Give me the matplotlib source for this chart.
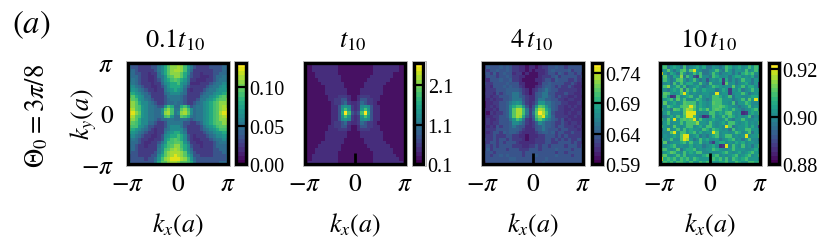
import matplotlib
matplotlib.use("Agg")
import matplotlib.pyplot as plt
from matplotlib.patches import Rectangle
import numpy as np

plt.rcParams['font.family'] = ['Liberation Serif', 'DejaVu Serif']
plt.rcParams['mathtext.fontset'] = 'stix'

W, H = 831, 253

titles = [r'$0.1t_{10}$', r'$t_{10}$', r'$4\,t_{10}$', r'$10\,t_{10}$']
ranges = [(0.0, 0.132), (0.1, 2.67), (0.59, 0.757), (0.88, 0.9226)]
cbar_ticks = [[0.00, 0.05, 0.10], [0.1, 1.1, 2.1], [0.59, 0.64, 0.69, 0.74], [0.88, 0.90, 0.92]]
cbar_labels = [['0.00', '0.05', '0.10'], ['0.1', '1.1', '2.1'],
               ['0.59', '0.64', '0.69', '0.74'], ['0.88', '0.90', '0.92']]

# Cell levels, hex digit 0..f = bottom..top of that panel's colour scale
levels_a = """
55444 33445 689ab cb986 54334 44444 5
54433 33446 79bcc dca86 43333 44445 5
55433 33346 79bcd dca75 33333 34445 5
65443 32335 79bcc cb974 33233 34455 5
65543 32235 68abc cb964 33222 34556 6
66543 32234 689ab a9863 32223 34566 6
76543 33233 57899 a8752 22333 45667 7
87654 33223 46899 98643 33334 56678 8
88765 43323 36789 87532 33345 66788 9
a9876 54333 35677 76533 33456 67889 a
bb987 55333 34666 65433 33566 789ab b
cba87 65433 34566 65433 34667 89abb c
dcb97 76543 34556 55433 45678 9abcc c
dcba8 76654 48a95 59a84 56678 9abcd d
edba8 76655 7bca6 6bca7 56678 9abcd e
fecb8 76655 7cda6 7cdb7 56678 9abde f
edba8 76655 6ab85 5ba96 56678 9abcd e
dcb97 76654 55665 56654 56678 9abcc d
cba97 75543 34666 66443 34578 9abbc c
baa87 64433 34677 76433 33467 89abb b
a9876 54323 35677 77533 33456 789aa a
98765 43323 36789 97633 33345 67889 9
77654 33223 47899 a9743 23334 56778 7
66543 32233 489ab a9743 22333 45667 6
65543 22334 68aab ba863 32233 34566 6
55433 23335 79abc ca974 33233 34555 5
55433 33336 7abcd cb975 33333 34455 5
54433 33346 8bcdd dcb86 43333 34445 5
44433 33447 9bcde dcb97 44333 34444 5
44444 34458 acdee edca8 54444 44444 5
54444 44469 bbcdd cbba9 64444 44455 5
"""

levels_b = """
12222 22222 11111 11111 12222 22222 1
11222 22222 11111 11111 12222 22221 1
11222 22222 11111 11111 12222 22221 1
11122 22222 11111 11111 12222 22111 1
11122 22222 21111 11111 22222 22111 1
11112 22222 21111 11112 22222 21111 1
11111 22222 22111 11122 22222 11111 1
11111 12222 22111 11122 22221 11111 1
11111 12222 22211 11222 22221 11111 1
11111 12222 22211 11222 22221 11111 1
11111 11222 33321 12333 22211 11111 1
11111 11223 34421 12443 32211 11111 1
11111 11123 34532 23543 32111 11111 1
11111 11122 47873 23787 42211 11111 1
11111 11122 48a83 238a8 42211 11111 1
11111 11122 49fa4 34af9 42211 11111 1
11111 11122 48a83 238a8 42211 11111 1
11111 11122 47873 23787 42211 11111 1
11111 11123 34532 23543 32111 11111 1
11111 11223 34421 12443 32211 11111 1
11111 11222 33321 12333 22211 11111 1
11111 12222 22211 11222 22221 11111 1
11111 12222 22211 11222 22221 11111 1
11111 12222 22111 11122 22221 11111 1
11111 22222 22111 11122 22222 11111 1
11112 22222 21111 11112 22222 21111 1
11122 22222 21111 11111 22222 22111 1
11122 22222 11111 11111 12222 22111 1
11222 22222 11111 11111 12222 22211 1
11222 22222 11111 11111 12222 22221 1
12222 22222 11111 11111 12222 22222 1
"""

levels_c = """
34344 45443 23222 12223 34443 44343 3
35444 54543 32212 21233 44544 34444 4
43445 44543 32212 12223 45444 45344 4
44353 45442 33121 11223 44354 34434 3
34443 44543 32211 11233 34534 44443 4
32444 54453 32111 12234 43544 43343 3
43344 44544 42211 11244 54444 33432 3
33244 45454 43211 12345 54343 34322 2
23334 44555 54321 23456 54433 33332 3
33324 34556 65321 24566 44333 43322 3
23233 44456 65432 24566 54343 32232 2
22323 34456 66432 24665 54433 23322 3
12233 44567 87532 35886 65443 32223 2
12323 44579 aa842 48ba8 65433 23232 2
22232 4457b dda63 5adc9 75433 22322 3
21323 3457b dda63 6bfda 74333 23223 2
22233 4457b dc953 5ace9 75333 32232 3
23223 44468 a9632 49b97 65434 23222 2
23233 44457 76532 35765 54334 32332 3
32324 34456 54422 34565 54344 33323 2
33334 44455 54322 24565 44434 43332 3
32344 35455 43222 23455 45344 33433 3
33343 33443 32212 22334 44343 43333 3
43343 44343 33212 23334 43434 34334 3
33443 43444 32222 23334 43344 44343 3
34343 44443 33223 34344 34444 34443 4
35344 44344 43334 44344 44544 44344 4
44434 44444 44344 44444 44344 34444 4
44344 54544 44344 45444 44544 44344 4
44444 44455 44444 54445 44444 44444 4
34444 44444 44444 44454 44444 44444 4
"""

levels_d = """
8a768 78967 8a766 57767 96868 7676e 7
9a689 86a67 89796 68767 a9789 78a8a 9
68b86 8ab7b e8766 78a76 a8688 7a78a 7
e8698 6b867 a8a66 7a867 78686 9a9a7 8
8b769 8c6a8 43a77 6a977 86899 78796 8
7a867 ab868 a7674 78793 96867 a8868 8
6786a 7a799 77a76 a7782 b7867 89768 2
8ac78 a7a67 89767 8a987 87b78 a7997 3
87689 8b6a8 a8798 88679 83879 678a8 9
7ba87 8ae97 87788 77e78 83788 a8678 7
9a723 a789a 77a78 7aa97 8a688 77899 8
789a7 b8a77 8a976 7aaa8 88678 a7b8e 8
6b789 78baa a7987 8baa8 87a68 8a977 7
87a98 8abbe b8987 8aaba 98776 78a78 8
a786b a8bdc a8a9b 8aba8 98a87 6789a 7
78a78 87bee e7777 aa898 ab878 23898 a
76797 a8aee a7623 7a78a 8a978 78a67 8
a7b8e 8abab e7a87 89878 a7688 a8778 8
78a78 8a8aa ac887 a8789 7aa87 89787 a
a877b 878aa 7897a a8787 ea678 89797 3
68c78 a7a89 887a9 7a987 86a78 8aa88 7
877be 8aa89 a7978 8ea78 878a9 78a68 8
78789 8bee7 89676 89a78 aa787 8e788 a
a78a7 7bed8 67a89 77867 89a78 68a77 6
8b678 89a8a 88a78 53899 78798 97887 8
8789a 78779 78867 89723 e7a87 a7868 a
aa878 b6899 a7878 8a987 78a88 87789 7
789ba 87a89 8aa77 87789 a8789 789a8 8
ab878 a8a78 8779a 89a78 789a7 89a78 a
e9a9a 8a9a8 a9888 7a9a8 a7a98 9a888 8
8a9a8 aa98a 88a9a 88899 a88a9 88aa9 a
"""

panels = [levels_a, levels_b, levels_c, levels_d]


def decode(text, lo, hi):
    rows = [r.replace(' ', '') for r in text.strip().splitlines()]
    grid = np.array([[int(c, 16) for c in r] for r in rows], dtype=float)
    return lo + grid / 15.0 * (hi - lo)


def px_axes(x0, y0, x1, y1):
    return fig.add_axes([x0 / W, 1 - y1 / H, (x1 - x0) / W, (y1 - y0) / H])


def frame(ax, x0, y0, x1, y1):
    for s in ax.spines.values():
        s.set_linewidth(2.4)
        s.set_color('black')
    d = 2.0
    fig.add_artist(Rectangle(((x0 - d) / W, 1 - (y1 + d) / H), (x1 - x0 + 2 * d) / W, (y1 - y0 + 2 * d) / H,
                             transform=fig.transFigure, fill=False, ec='#b0b0b0', lw=0.7))


fig = plt.figure(figsize=(W / 100, H / 100), dpi=100)
cmap = plt.get_cmap('viridis', 24)

ax_left = [127.7, 304.7, 482.7, 659.7]
ax_w = 100.6
cb_off = [108, 109, 109, 109]
cb_w = 9.8
top, bot = 63.7, 165.3
title_shift = [-3, -2, -1.5, -1.5]

for i, x0 in enumerate(ax_left):
    lo, hi = ranges[i]
    ax = px_axes(x0, top, x0 + ax_w, bot)
    im = ax.imshow(decode(panels[i], lo, hi), cmap=cmap, vmin=lo, vmax=hi, aspect='auto',
                   interpolation='nearest', origin='upper', extent=(-np.pi, np.pi, -np.pi, np.pi))
    frame(ax, x0, top, x0 + ax_w, bot)
    ax.set_xticks([-np.pi, 0, np.pi], [r'$-\pi$', r'$0$', r'$\pi$'], fontsize=18.4)
    ax.tick_params(axis='x', direction='in', length=0, pad=6.5)
    if i > 0:
        ax.plot([0, 0], [-np.pi, -np.pi + 0.72], color='black', lw=2, solid_capstyle='butt', zorder=2)
        ax.set_xlim(-np.pi, np.pi)
        ax.set_ylim(-np.pi, np.pi)
    ax.set_xlabel(r'$k_x(a)$', fontsize=18.7, labelpad=11)
    ax.set_title(titles[i], fontsize=19, pad=12, x=0.5 + title_shift[i] / ax_w)
    if i == 0:
        ax.set_yticks([-np.pi, 0, np.pi], [r'$-\pi$', r'$0$', r'$\pi$'], fontsize=18.4)
        ax.tick_params(axis='y', length=0, pad=10)
        ax.set_ylabel(r'$k_y(a)$', fontsize=18.7, labelpad=-13.5)
    else:
        ax.set_yticks([])

    cx0 = x0 + cb_off[i]
    cax = px_axes(cx0, top, cx0 + cb_w, bot)
    cb = fig.colorbar(im, cax=cax)
    cb.set_ticks(cbar_ticks[i], labels=cbar_labels[i])
    cb.ax.tick_params(direction='in', length=8, width=1.6, color='black', labelsize=14.6, pad=3)
    cb.minorticks_off()
    cb.outline.set_linewidth(2.4)
    frame(cax, cx0, top, cx0 + cb_w, bot)

fig.text(31 / W, 1 - 25 / H, r'$(a)$', fontsize=23.5, ha='center', va='center')
fig.text(37 / W, 1 - 116 / H, r'$\Theta_0 = 3\pi/8$', fontsize=19.2, rotation=90, ha='center', va='center')

fig.savefig('out.png', dpi=100)
